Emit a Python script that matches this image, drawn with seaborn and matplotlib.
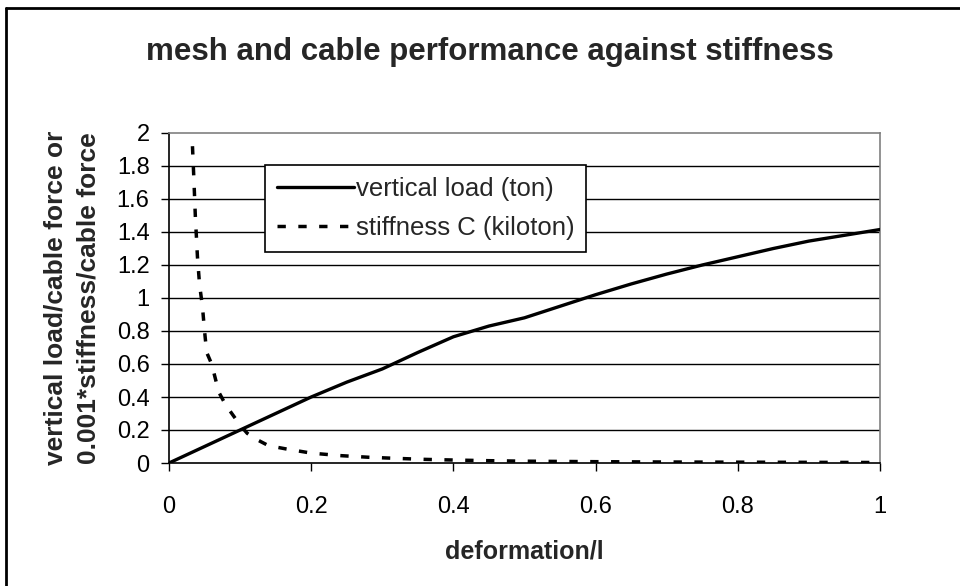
import matplotlib
matplotlib.use("Agg")
import matplotlib.pyplot as plt
import seaborn as sns
import numpy as np
import pandas as pd
from matplotlib.lines import Line2D

# ---- data ----
load_x = [0.00, 0.05, 0.10, 0.15, 0.20, 0.25, 0.30, 0.35, 0.40, 0.45, 0.50,
          0.55, 0.60, 0.65, 0.70, 0.75, 0.80, 0.85, 0.90, 0.95, 1.00]
load_y = [0.00, 0.10, 0.20, 0.30, 0.40, 0.49, 0.57, 0.67, 0.765, 0.83, 0.88,
          0.95, 1.02, 1.085, 1.145, 1.20, 1.25, 1.30, 1.345, 1.38, 1.415]

stiff_x = [0.033, 0.035, 0.037, 0.040, 0.043, 0.047, 0.050, 0.053, 0.060, 0.070,
           0.080, 0.090, 0.100, 0.110, 0.120, 0.140, 0.165, 0.200, 0.240, 0.280,
           0.320, 0.360, 0.400, 0.450, 0.500, 0.600, 0.700, 0.800, 0.900, 1.000]
stiff_y = [1.92, 1.72, 1.50, 1.25, 1.08, 0.95, 0.80, 0.67, 0.60, 0.43,
           0.35, 0.29, 0.23, 0.18, 0.15, 0.105, 0.085, 0.060, 0.045, 0.035,
           0.028, 0.022, 0.018, 0.014, 0.011, 0.008, 0.006, 0.005, 0.004, 0.003]

series_names = ["vertical load (ton)", "stiffness C (kiloton)"]
title = "mesh and cable performance against stiffness"
xlabel = "deformation/l"
ylabel = "vertical load/cable force or\n0.001*stiffness/cable force"
xticks = [0, 0.2, 0.4, 0.6, 0.8, 1]
xtick_labels = ["0", "0.2", "0.4", "0.6", "0.8", "1"]
yticks = [0, 0.2, 0.4, 0.6, 0.8, 1, 1.2, 1.4, 1.6, 1.8, 2]
ytick_labels = ["0", "0.2", "0.4", "0.6", "0.8", "1", "1.2", "1.4", "1.6", "1.8", "2"]

sns.set_theme(style="white")
plt.rcParams['font.family'] = ['Liberation Sans', 'DejaVu Sans']

fig = plt.figure(figsize=(9.6, 5.86), dpi=100)
ax = fig.add_axes([169/960, 1 - 463/586, (880-169)/960, (463-133)/586])

df_load = pd.DataFrame({"x": load_x, "y": load_y})
df_stiff = pd.DataFrame({"x": stiff_x, "y": stiff_y})

dash = (0, (2.4, 3.6))
sns.lineplot(data=df_load, x="x", y="y", ax=ax, color="black", lw=2.4,
             sort=False, estimator=None, label=series_names[0], zorder=3)
sns.lineplot(data=df_stiff, x="x", y="y", ax=ax, color="black", lw=2.5,
             sort=False, estimator=None, label=series_names[1], zorder=3,
             linestyle=dash)

ax.set_xlim(0, 1)
ax.set_ylim(0, 2)
ax.set_xticks(xticks)
ax.set_xticklabels(xtick_labels)
ax.set_yticks(yticks)
ax.set_yticklabels(ytick_labels)

for yv in yticks[1:-1]:
    ax.axhline(yv, color="black", lw=1.0, zorder=1)

for side in ["top", "right"]:
    ax.spines[side].set_color("#808080")
    ax.spines[side].set_linewidth(1.2)
for side in ["left", "bottom"]:
    ax.spines[side].set_color("black")
    ax.spines[side].set_linewidth(1.2)

ax.tick_params(axis="both", which="major", direction="out", length=6, width=1.0,
               color="black", labelsize=17, labelcolor="black")
ax.tick_params(axis="y", pad=8, left=True)
ax.tick_params(axis="x", pad=18, bottom=True)

ax.set_xlabel(xlabel, fontsize=18, fontweight="bold", labelpad=15)
ax.set_ylabel(ylabel, fontsize=19, fontweight="bold", labelpad=12, linespacing=1.45)

fig.text(0.51, 1 - 52/586, title, ha="center", va="center",
         fontsize=22.5, fontweight="bold")

handles = [Line2D([0], [0], color="black", lw=2.4),
           Line2D([0], [0], color="black", lw=2.5, linestyle=dash)]
leg = ax.legend(handles, series_names, loc="upper left",
                bbox_to_anchor=((265-169)/711, (463-165)/330),
                fontsize=18.5, frameon=True, fancybox=False, borderaxespad=0,
                handlelength=3.0, handletextpad=0.1, labelspacing=0.6,
                borderpad=0.45)
leg.get_frame().set_edgecolor("black")
leg.get_frame().set_linewidth(1.2)
leg.get_frame().set_alpha(1)

# figure border (left and top visible)
fig.add_artist(plt.Line2D([6/960, 6/960], [0, 1 - 8/586], transform=fig.transFigure,
                          color="black", lw=2))
fig.add_artist(plt.Line2D([6/960, 1], [1 - 8/586, 1 - 8/586], transform=fig.transFigure,
                          color="black", lw=2))

fig.savefig("out.png", dpi=100)
